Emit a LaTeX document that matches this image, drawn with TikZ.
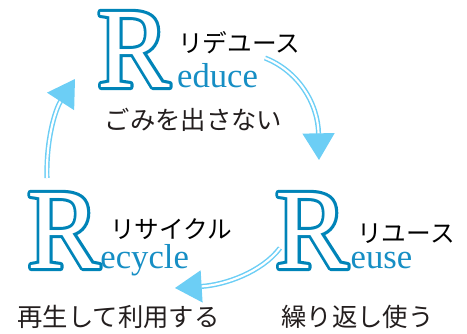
\documentclass[tikz,border=0pt]{standalone}
\usepackage{fontspec}
\setmainfont{Liberation Serif}
\newfontfamily\jpfont{Noto Sans CJK JP}
\usetikzlibrary{arrows.meta,positioning}
\definecolor{rblue}{RGB}{0,132,184}
\definecolor{eblue}{RGB}{22,142,196}
\definecolor{arrowblue}{RGB}{108,206,245}
\definecolor{inkgray}{RGB}{35,30,30}
% big outlined R: blue rim round a white letter
\newcommand{\strokeR}[3]{%
  \rlap{\color{#1}\special{pdf:literal direct q #2 Tr #3 w 1 j}R\special{pdf:literal direct Q}}}
\newcommand{\outlineR}{%
  \scalebox{0.95}[1]{\strokeR{rblue}{2}{4.6}\strokeR{white}{0}{0}\phantom{R}}}
\tikzset{
  bigR/.style={inner sep=0, anchor=base west, font=\fontsize{86}{86}\selectfont},
  engword/.style={inner sep=0, anchor=base west, text=eblue, font=\fontsize{26}{26}\selectfont},
  kana/.style={inner sep=0, anchor=west, font=\jpfont\fontsize{18.5}{20}\selectfont},
  phrase/.style={inner sep=0, text=inkgray, font=\jpfont\fontsize{19}{21}\selectfont},
  cyclearrow/.style={draw=arrowblue, line width=1.1pt, double=white, double distance=1.6pt,
    -{Triangle[length=20pt,width=24pt,fill=arrowblue]}}
}

\begin{document}
\begin{tikzpicture}[x=0.75pt,y=0.75pt]
		%%%%% START %%%%%
		\useasboundingbox (0,0) rectangle (467,333);
		
		% Reduce
		\node[bigR] (reduceR) at (97,246) {\outlineR};
		\node[engword, xshift=5pt] (reduceWord) at (reduceR.base east) {educe};
		\node[kana] (reduceKana) at (178,290) {リデユース};
		\node[phrase] (reducePhrase) at (193.5,213) {ごみを出さない};
		
		% Reuse
		\node[bigR] (reuseR) at (275,65) {\outlineR};
		\node[engword, xshift=1.7pt] (reuseWord) at (reuseR.base east) {euse};
		\node[kana] (reuseKana) at (357,99) {リユース};
		\node[phrase] (reusePhrase) at (357.5,16) {繰り返し使う};
		
		% Recycle
		\node[bigR] (recycleR) at (27,65) {\outlineR};
		\node[engword] (recycleWord) at (recycleR.base east) {ecycle};
		\node[kana] (recycleKana) at (110,104) {リサイクル};
		\node[phrase] (recyclePhrase) at (118.5,16) {再生して利用する};
		
		% arrow ends
		\coordinate (reduceOut) at (265,275);
		\coordinate (reuseIn) at (319,173);
		\coordinate (reuseOut) at (280,85);
		\coordinate (recycleIn) at (175,45);
		\coordinate (recycleOut) at (47,155);
		\coordinate (reduceIn) at (75,254);
		
		\draw[cyclearrow] (reduceOut) .. controls (298,262) and (318,230) .. (reuseIn);
		\draw[cyclearrow] (reuseOut) .. controls (262,61) and (225,48) .. (recycleIn);
		\draw[cyclearrow] (recycleOut) .. controls (46,193) and (55,223) .. (reduceIn);
		
		%%%%% END %%%%%
\end{tikzpicture}
\end{document}
